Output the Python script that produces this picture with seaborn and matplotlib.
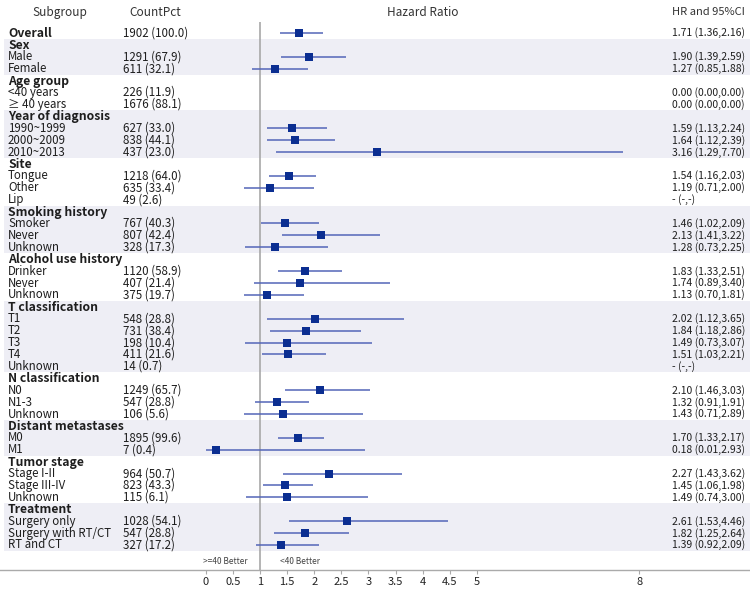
import numpy as np
import pandas as pd
import matplotlib
matplotlib.use("Agg")
import matplotlib.pyplot as plt
import matplotlib.transforms as mtransforms
import seaborn as sns

nan = np.nan

# rows of the forest plot, top to bottom
subgroup = ["Overall",
            "Sex", "Male", "Female",
            "Age group", "<40 years", "\u2265 40 years",
            "Year of diagnosis", "1990~1999", "2000~2009", "2010~2013",
            "Site", "Tongue", "Other", "Lip",
            "Smoking history", "Smoker", "Never", "Unknown",
            "Alcohol use history", "Drinker", "Never", "Unknown",
            "T classification", "T1", "T2", "T3", "T4", "Unknown",
            "N classification", "N0", "N1-3", "Unknown",
            "Distant metastases", "M0", "M1",
            "Tumor stage", "Stage I-II", "Stage III-IV", "Unknown",
            "Treatment", "Surgery only", "Surgery with RT/CT", "RT and CT"]

is_heading = [True,
              True, False, False,
              True, False, False,
              True, False, False, False,
              True, False, False, False,
              True, False, False, False,
              True, False, False, False,
              True, False, False, False, False, False,
              True, False, False, False,
              True, False, False,
              True, False, False, False,
              True, False, False, False]

count_pct = ["1902 (100.0)",
             "", "1291 (67.9)", "611 (32.1)",
             "", "226 (11.9)", "1676 (88.1)",
             "", "627 (33.0)", "838 (44.1)", "437 (23.0)",
             "", "1218 (64.0)", "635 (33.4)", "49 (2.6)",
             "", "767 (40.3)", "807 (42.4)", "328 (17.3)",
             "", "1120 (58.9)", "407 (21.4)", "375 (19.7)",
             "", "548 (28.8)", "731 (38.4)", "198 (10.4)", "411 (21.6)", "14 (0.7)",
             "", "1249 (65.7)", "547 (28.8)", "106 (5.6)",
             "", "1895 (99.6)", "7 (0.4)",
             "", "964 (50.7)", "823 (43.3)", "115 (6.1)",
             "", "1028 (54.1)", "547 (28.8)", "327 (17.2)"]

hr = [1.71,
      nan, 1.90, 1.27,
      nan, nan, nan,
      nan, 1.59, 1.64, 3.16,
      nan, 1.54, 1.19, nan,
      nan, 1.46, 2.13, 1.28,
      nan, 1.83, 1.74, 1.13,
      nan, 2.02, 1.84, 1.49, 1.51, nan,
      nan, 2.10, 1.32, 1.43,
      nan, 1.70, 0.18,
      nan, 2.27, 1.45, 1.49,
      nan, 2.61, 1.82, 1.39]

ci_lo = [1.36,
         nan, 1.39, 0.85,
         nan, nan, nan,
         nan, 1.13, 1.12, 1.29,
         nan, 1.16, 0.71, nan,
         nan, 1.02, 1.41, 0.73,
         nan, 1.33, 0.89, 0.70,
         nan, 1.12, 1.18, 0.73, 1.03, nan,
         nan, 1.46, 0.91, 0.71,
         nan, 1.33, 0.01,
         nan, 1.43, 1.06, 0.74,
         nan, 1.53, 1.25, 0.92]

ci_hi = [2.16,
         nan, 2.59, 1.88,
         nan, nan, nan,
         nan, 2.24, 2.39, 7.70,
         nan, 2.03, 2.00, nan,
         nan, 2.09, 3.22, 2.25,
         nan, 2.51, 3.40, 1.81,
         nan, 3.65, 2.86, 3.07, 2.21, nan,
         nan, 3.03, 1.91, 2.89,
         nan, 2.17, 2.93,
         nan, 3.62, 1.98, 3.00,
         nan, 4.46, 2.64, 2.09]

hr_text = ["1.71 (1.36,2.16)",
           "", "1.90 (1.39,2.59)", "1.27 (0.85,1.88)",
           "", "0.00 (0.00,0.00)", "0.00 (0.00,0.00)",
           "", "1.59 (1.13,2.24)", "1.64 (1.12,2.39)", "3.16 (1.29,7.70)",
           "", "1.54 (1.16,2.03)", "1.19 (0.71,2.00)", "- (-,-)",
           "", "1.46 (1.02,2.09)", "2.13 (1.41,3.22)", "1.28 (0.73,2.25)",
           "", "1.83 (1.33,2.51)", "1.74 (0.89,3.40)", "1.13 (0.70,1.81)",
           "", "2.02 (1.12,3.65)", "1.84 (1.18,2.86)", "1.49 (0.73,3.07)", "1.51 (1.03,2.21)", "- (-,-)",
           "", "2.10 (1.46,3.03)", "1.32 (0.91,1.91)", "1.43 (0.71,2.89)",
           "", "1.70 (1.33,2.17)", "0.18 (0.01,2.93)",
           "", "2.27 (1.43,3.62)", "1.45 (1.06,1.98)", "1.49 (0.74,3.00)",
           "", "2.61 (1.53,4.46)", "1.82 (1.25,2.64)", "1.39 (0.92,2.09)"]

x_ticks = [0, 0.5, 1, 1.5, 2, 2.5, 3, 3.5, 4, 4.5, 5, 8]
x_tick_labels = ["0", "0.5", "1", "1.5", "2", "2.5", "3", "3.5", "4", "4.5", "5", "8"]

df = pd.DataFrame({"label": subgroup, "heading": is_heading, "count": count_pct,
                   "hr": hr, "lo": ci_lo, "hi": ci_hi, "txt": hr_text})
df["row"] = np.arange(len(df))

sns.set_theme(style="white")
plt.rcParams["font.family"] = ["Noto Sans CJK KR", "DejaVu Sans"]

fig = plt.figure(figsize=(7.5, 5.92), dpi=100)
ax = fig.add_axes([0, 1 - 570 / 592, 1, 570 / 592])
ax.set_xlim(-3.80, 10.04)
ax.set_ylim(45.1, -2.77)

# shaded bands for every other group (Sex, Year, Smoking, ...)
group_starts = list(df.index[df["heading"]][1:])
group_ends = group_starts[1:] + [len(df)]
for k, (s, e) in enumerate(zip(group_starts, group_ends)):
    if k % 2 == 0:
        ax.axhspan(s - 0.5, e - 0.5, xmin=0.005, xmax=1, color="#EEEEF5", lw=0, zorder=0)

# reference line at HR = 1
ax.vlines(1, -0.9, 45.1, color="#A8A8A8", lw=1.2, zorder=1)

# confidence intervals and point estimates
est = df.dropna(subset=["hr"])
ax.hlines(est["row"], est["lo"], est["hi"], color="#5466B8", lw=1.1, zorder=2)
sns.scatterplot(data=est, x="hr", y="row", marker="s", s=26, color="#0B2E91",
                edgecolor="#0B2E91", linewidth=0, zorder=3, ax=ax, legend=False)

# text columns
trans = mtransforms.blended_transform_factory(ax.transAxes, ax.transData)
tc = "#1E1E1E"
for _, r in df.iterrows():
    if r["heading"]:
        ax.text(8 / 750, r["row"] + 0.05, r["label"], transform=trans, fontsize=8.8,
                fontweight="bold", color=tc, va="center", ha="left")
    else:
        ax.text(8 / 750, r["row"], r["label"], transform=trans, fontsize=8.3,
                color=tc, va="center", ha="left")
    if r["count"]:
        ax.text(123 / 750, r["row"], r["count"], transform=trans, fontsize=8.3,
                color=tc, va="center", ha="left")
    if r["txt"]:
        ax.text(672 / 750, r["row"], r["txt"], transform=trans, fontsize=7.5,
                color=tc, va="center", ha="left")

# column headers
hy = -1.76
ax.text(60 / 750, hy, "Subgroup", transform=trans, fontsize=8.5, color="#333333", ha="center", va="center")
ax.text(155 / 750, hy, "CountPct", transform=trans, fontsize=8.5, color="#333333", ha="center", va="center")
ax.text(423 / 750, hy, "Hazard Ratio", transform=trans, fontsize=8.5, color="#333333", ha="center", va="center")
ax.text(708 / 750, hy, "HR and 95%CI", transform=trans, fontsize=8, color="#333333", ha="center", va="center")

# better labels
ax.text(225 / 750, 44.4, ">=40 Better", transform=trans, fontsize=6, color="#444444", ha="center", va="center")
ax.text(300 / 750, 44.4, "<40 Better", transform=trans, fontsize=6, color="#444444", ha="center", va="center")

# axis styling
for side in ["top", "left", "right"]:
    ax.spines[side].set_visible(False)
ax.spines["bottom"].set_color("#AAAAAA")
ax.spines["bottom"].set_linewidth(1.0)
ax.set_yticks([])
ax.set_xticks(x_ticks)
ax.set_xticklabels(x_tick_labels, fontsize=8, color="#222222")
ax.tick_params(axis="x", direction="out", length=3, width=0.8, color="#AAAAAA", pad=2, bottom=True)
ax.set_xlabel("")
ax.set_ylabel("")

fig.savefig("out.png", dpi=100)
